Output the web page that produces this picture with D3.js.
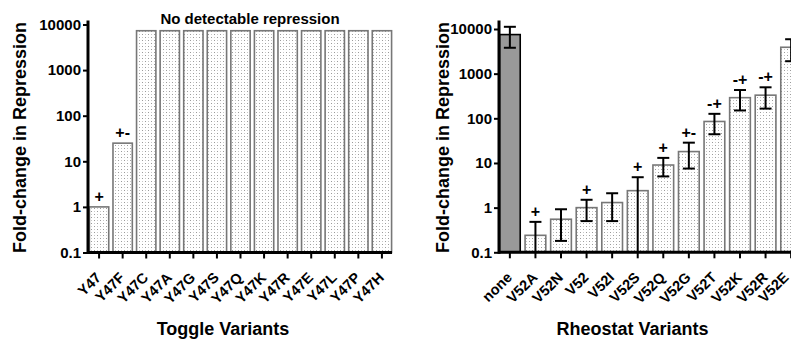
<!DOCTYPE html>
<html><head><meta charset="utf-8">
<script src="https://cdn.jsdelivr.net/npm/d3@7/dist/d3.min.js"></script>
<style>
body{margin:0;background:#fff}
text{font-family:"Liberation Sans",Arial,sans-serif;font-weight:bold;fill:#000}
</style></head>
<body><svg id="c" width="791" height="340"></svg>
<script>
const toggleCats = ["Y47","Y47F","Y47C","Y47A","Y47G","Y47S","Y47Q","Y47K","Y47R","Y47E","Y47L","Y47P","Y47H"];
const toggleVals = [1,25,7300,7300,7300,7300,7300,7300,7300,7300,7300,7300,7300];
const toggleMarks = ["+","+-","","","","","","","","","","",""];

const rheoCats = ["none","V52A","V52N","V52","V52I","V52S","V52Q","V52G","V52T","V52K","V52R","V52E"];
const rheoVals = [7500,0.24,0.55,1.0,1.3,2.4,9,18,85,290,330,3900];
const rheoErr  = [3700,0.24,0.37,0.5,0.8,2.4,4,10.5,41,140,165,2000];
const rheoMarks = ["","+","","+","","+","+","+-","-+","-+","-+",""];

const yTicks = [0.1,1,10,100,1000,10000];
const yTickLabels = ["0.1","1","10","100","1000","10000"];

const svg = d3.select("#c");
const defs = svg.append("defs");
const pat = defs.append("pattern").attr("id","dots").attr("patternUnits","userSpaceOnUse")
  .attr("width",6).attr("height",6);
pat.append("rect").attr("width",6).attr("height",6).attr("fill","#fff");
pat.append("rect").attr("x",1).attr("y",1).attr("width",1).attr("height",1).attr("fill","#9a9a9a");
pat.append("rect").attr("x",4).attr("y",4).attr("width",1).attr("height",1).attr("fill","#9a9a9a");
pat.append("rect").attr("x",4).attr("y",1).attr("width",1).attr("height",1).attr("fill","#c8c8c8");
pat.append("rect").attr("x",1).attr("y",4).attr("width",1).attr("height",1).attr("fill","#c8c8c8");

function panel(opt){
  const g = svg.append("g");
  const x = d3.scaleBand().domain(opt.cats).range([opt.x0, opt.x1]).paddingInner(opt.pi).paddingOuter(opt.po);
  const y = d3.scaleLog().domain([0.1,10000]).range([opt.yb, opt.yt]);
  // bars
  g.selectAll("rect.bar").data(opt.cats).join("rect")
    .attr("x", d=>x(d)).attr("width", x.bandwidth())
    .attr("y", (d,i)=>y(opt.vals[i])).attr("height",(d,i)=>y(0.1)-y(opt.vals[i]))
    .attr("fill",(d,i)=> (opt.solid && i===0) ? "#999" : "url(#dots)")
    .attr("stroke",(d,i)=> (opt.solid && i===0) ? "#000" : "#777")
    .attr("stroke-width",1.6);
  // error bars
  if(opt.err){
    opt.cats.forEach((d,i)=>{
      const cx = x(d)+x.bandwidth()/2;
      const hi = opt.vals[i]+opt.err[i];
      const lo = Math.max(opt.vals[i]-opt.err[i], 0.1);
      const yh = y(hi), yl = y(lo);
      g.append("line").attr("x1",cx).attr("x2",cx).attr("y1",yh).attr("y2",yl).attr("stroke","#000").attr("stroke-width",2);
      g.append("line").attr("x1",cx-6).attr("x2",cx+6).attr("y1",yh).attr("y2",yh).attr("stroke","#000").attr("stroke-width",2);
      if(lo>0.1) g.append("line").attr("x1",cx-6).attr("x2",cx+6).attr("y1",yl).attr("y2",yl).attr("stroke","#000").attr("stroke-width",2);
    });
  }
  // annotations
  opt.cats.forEach((d,i)=>{
    if(!opt.marks[i]) return;
    const cx = x(d)+x.bandwidth()/2;
    const top = opt.err ? y(opt.vals[i]+opt.err[i]) : y(opt.vals[i]);
    g.append("text").attr("x",cx).attr("y",top-5).attr("text-anchor","middle")
      .style("font-size","16px").text(opt.marks[i]);
  });
  // y axis
  const ya = d3.axisLeft(y).tickValues(yTicks).tickFormat((d,i)=>yTickLabels[i]).tickSize(5).tickPadding(2);
  const yg = g.append("g").attr("transform",`translate(${opt.x0},0)`).call(ya);
  yg.select(".domain").remove();
  yg.selectAll(".tick line").attr("stroke","#000").attr("stroke-width",2);
  yg.selectAll(".tick text").style("font-size","15px").style("font-family","'Liberation Sans',Arial,sans-serif").style("font-weight","bold");
  g.append("line").attr("x1",opt.x0).attr("x2",opt.x0).attr("y1",opt.yb+1.5).attr("y2",opt.ytop).attr("stroke","#000").attr("stroke-width",3);
  // x axis
  const xa = d3.axisBottom(x).tickSize(6).tickFormat("");
  const xg = g.append("g").attr("transform",`translate(0,${opt.yb})`).call(xa);
  xg.select(".domain").remove();
  xg.selectAll(".tick line").attr("stroke","#000").attr("stroke-width",2);
  g.append("line").attr("x1",opt.x0).attr("x2",opt.xend).attr("y1",opt.yb).attr("y2",opt.yb).attr("stroke","#000").attr("stroke-width",3);
  g.selectAll("text.xl").data(opt.cats).join("text").attr("class","xl")
    .attr("transform",d=>`translate(${Math.min(x(d)+x.bandwidth()/2+3, 789.5)},${opt.yb+26}) rotate(-45)`)
    .attr("text-anchor","end").style("font-size","14.5px").text(d=>d);
  // titles
  g.append("text").attr("x",opt.xtc).attr("y",335).attr("text-anchor","middle").style("font-size","18px").text(opt.xtitle);
  g.append("text").attr("transform",`translate(${opt.ytx},137.5) rotate(-90)`).attr("text-anchor","middle")
    .style("font-size","18px").text("Fold-change in Repression");
  return {x,y,g};
}

const L = panel({cats:toggleCats, vals:toggleVals, marks:toggleMarks, x0:88, x1:393, pi:0.18, po:0.06,
  yb:252.5, yt:24.5, ytop:20.5, xend:392, xtc:223, ytx:26, xtitle:"Toggle Variants"});
L.g.append("text").attr("x",250).attr("y",23.5).attr("text-anchor","middle").style("font-size","15px").text("No detectable repression");

const R = panel({cats:rheoCats, vals:rheoVals, err:rheoErr, marks:rheoMarks, solid:true, x0:499, x1:802, pi:0.19, po:0.02,
  yb:252.3, yt:29, ytop:20.5, xend:791, xtc:632.5, ytx:449, xtitle:"Rheostat Variants"});
</script></body></html>
